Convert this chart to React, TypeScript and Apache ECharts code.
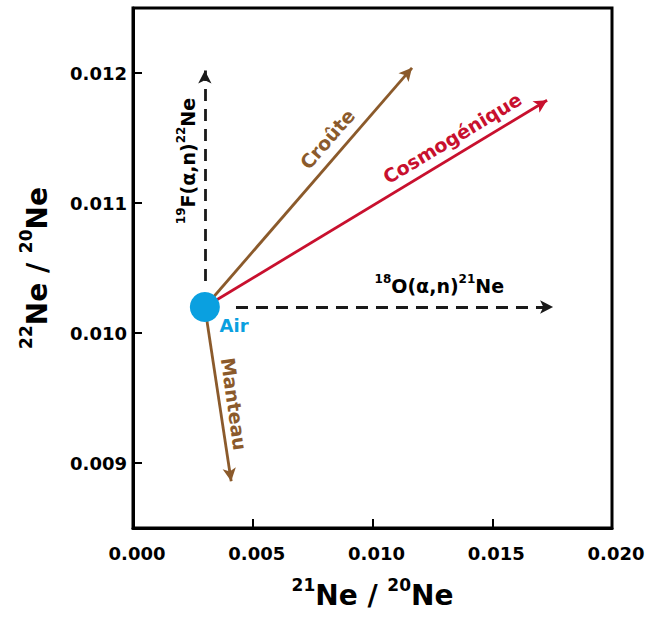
import { useEffect, useRef } from "react";
import * as echarts from "echarts";

// Axes
const xRange = [0, 0.02];
const xInterval = 0.005;
const yRange = [0.0085, 0.0125];
const yTicks = [0.009, 0.01, 0.011, 0.012];

// Air reference point
const airPoint = [0.003, 0.0102];

// Arrows (start -> end)
const arrowStarts = [
  [0.003, 0.0102],
  [0.003, 0.0102],
  [0.003, 0.0102],
  [0.003, 0.0104],
  [0.0043, 0.0102],
];
const arrowEnds = [
  [0.01165, 0.01204],
  [0.01729, 0.01179],
  [0.0041, 0.00886],
  [0.003, 0.01202],
  [0.01754, 0.0102],
];
const arrowColors = ["#8B5A2B", "#C8102E", "#8B5A2B", "#1a1a1a", "#1a1a1a"];
const arrowDashed = [false, false, false, true, true];

// Annotations (anchored in data coordinates)
const labelTexts = [
  "Croûte",
  "Cosmogénique",
  "Manteau",
  "{s|19}{b|F(α,n)}{s|22}{b|Ne}",
  "{s|18}{b|O(α,n)}{s|21}{b|Ne}",
  "Air",
];
const labelAnchors = [
  [0.00811, 0.011492],
  [0.01333, 0.0115],
  [0.00422, 0.009454],
  [0.00221, 0.011323],
  [0.01279, 0.010377],
  [0.00422, 0.010054],
];
const labelRotations = [49, 31, -82, 90, 0, 0];
const labelColors = ["#8B5A2B", "#C8102E", "#8B5A2B", "#000", "#000", "#0AA0E0"];

const FONT = "DejaVu Sans";

export default function App() {
  const ref = useRef<HTMLDivElement>(null);
  useEffect(() => {
    if (!ref.current) return;
    const chart = echarts.init(ref.current, null, { renderer: "svg" });
    const supRich = (base: number, sup: number, weight: string, color: string) => ({
      s: { fontSize: sup, fontFamily: FONT, fontWeight: weight, verticalAlign: "top", lineHeight: sup, color, textBorderWidth: 0 },
      b: { fontSize: base, fontFamily: FONT, fontWeight: weight, verticalAlign: "bottom", lineHeight: base * 1.2, color, textBorderWidth: 0 },
    });
    const option: any = {
      animation: false,
      textStyle: { fontFamily: FONT },
      grid: {
        left: 133,
        right: 38,
        top: 8,
        bottom: 91,
        show: true,
        borderColor: "#000",
        borderWidth: 3,
        backgroundColor: "transparent",
      },
      xAxis: {
        type: "value",
        min: xRange[0],
        max: xRange[1],
        interval: xInterval,
        axisLine: { show: true, onZero: false, lineStyle: { color: "#000", width: 3 } },
        axisTick: { show: true, inside: true, length: 9, lineStyle: { color: "#000", width: 2 } },
        axisLabel: {
          formatter: (v: number) => v.toFixed(3),
          fontSize: 18,
          fontWeight: "bold",
          color: "#000",
          margin: 16,
          padding: [0, 0, 0, 8],
          fontFamily: FONT,
        },
        splitLine: { show: false },
        name: "{s|21}{b|Ne / }{s|20}{b|Ne}",
        nameLocation: "middle",
        nameGap: 48,
        nameTextStyle: { rich: supRich(28, 17, "bold", "#000") },
      },
      yAxis: {
        type: "value",
        min: yRange[0],
        max: yRange[1],
        axisLine: { show: true, onZero: false, lineStyle: { color: "#000", width: 3 } },
        axisTick: {
          show: true,
          inside: true,
          length: 9,
          customValues: yTicks,
          lineStyle: { color: "#000", width: 2 },
        },
        axisLabel: {
          customValues: yTicks,
          formatter: (v: number) => v.toFixed(3),
          fontSize: 18,
          fontWeight: "bold",
          color: "#000",
          margin: 6,
          padding: [4, 0, 0, 0],
          fontFamily: FONT,
        },
        splitLine: { show: false },
        name: "{s|22}{b|Ne / }{s|20}{b|Ne}",
        nameLocation: "middle",
        nameGap: 82,
        nameTextStyle: { rich: supRich(28, 17, "bold", "#000") },
      },
      series: [
        {
          type: "scatter",
          z: 3,
          silent: true,
          data: [airPoint],
          symbol: "circle",
          symbolSize: 30,
          itemStyle: { color: "#0AA0E0", opacity: 1 },
          markLine: {
            silent: true,
            z: 1,
            symbol: ["none", "arrow"],
            symbolSize: [10, 13],
            precision: 6,
            label: { show: false },
            emphasis: { disabled: true },
            data: arrowStarts.map((s, i) => [
              {
                coord: s,
                lineStyle: {
                  color: arrowColors[i],
                  width: 2.8,
                  opacity: 1,
                  type: arrowDashed[i] ? [12, 8] : "solid",
                },
              },
              { coord: arrowEnds[i] },
            ]),
          },
        },
        {
          type: "scatter",
          z: 4,
          silent: true,
          symbolSize: 0,
          itemStyle: { opacity: 0 },
          data: labelAnchors.map((p, i) => ({
            value: p,
            label: {
              show: true,
              position: "inside",
              formatter: labelTexts[i],
              rotate: labelRotations[i],
              color: labelColors[i],
              opacity: 1,
              fontSize: i === 5 ? 18 : 19,
              fontWeight: "bold",
              fontFamily: FONT,
              align: "center",
              verticalAlign: "middle",
              textBorderWidth: 0,
              textBorderColor: "transparent",
              rich: supRich(19, 12, "bold", labelColors[i]),
            },
          })),
        },
      ],
    };
    chart.setOption(option);
    return () => chart.dispose();
  }, []);
  return (
    <div
      ref={ref}
      style={{ position: "absolute", left: 0, top: 0, width: 650, height: 619, background: "#fff" }}
    />
  );
}
